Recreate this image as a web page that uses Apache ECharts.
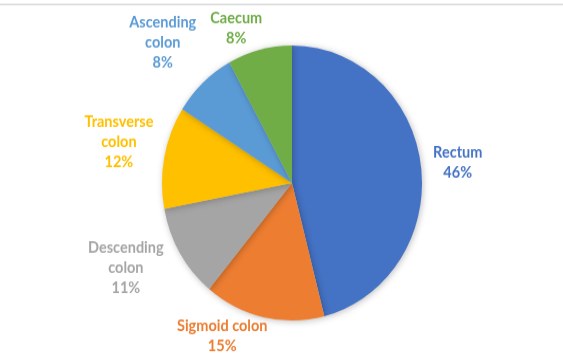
<!DOCTYPE html>
<html>
<head>
<meta charset="utf-8">
<script src="https://cdn.jsdelivr.net/npm/echarts@6/dist/echarts.min.js"></script>
<style>
html,body{margin:0;padding:0;background:#fff;overflow:hidden;}
#wrap{width:563px;height:356px;overflow:hidden;}
#chart{width:563px;}
</style>
</head>
<body>
<div id="wrap"><div id="chart"></div></div>
<script>
const categories = ['Rectum', 'Sigmoid colon', 'Descending colon', 'Transverse colon', 'Ascending colon', 'Caecum'];
const values = [46, 15, 11, 12, 8, 8];
const colors = ['#4472C4', '#ED7D31', '#A5A5A5', '#FFC000', '#5B9BD5', '#70AD47'];
// label nudges (px, on screen) relative to a radial anchor just outside each slice
const labelNudge = [[3, 1.5], [-34, -14], [-25, -2], [-12, -9], [-17, -15], [-15, 11]];

// the reference picture is stretched slightly taller than wide
const K = 137.5 / 130;
const W = 563, H = 356 / K;
const CX = 292, CYs = 183, RX = 130, RYs = RX * K, LABEL_GAP = 34;
const el = document.getElementById('chart');
el.style.height = H + 'px';
el.style.transformOrigin = '0 0';
el.style.transform = 'scaleY(' + K + ')';

const total = values.reduce((a, b) => a + b, 0);
const midAngles = [];
let acc = 0;
values.forEach(v => { midAngles.push((acc + v / 2) / total * 2 * Math.PI); acc += v; });

const chart = echarts.init(el, null, {renderer: 'canvas'});
chart.setOption({
  animation: false,
  backgroundColor: '#fff',
  graphic: [{
    type: 'line',
    shape: {x1: 0, y1: 4.5 / K, x2: W, y2: 4.5 / K},
    style: {stroke: '#d9d9d9', lineWidth: 1.5}
  }],
  series: [{
    type: 'pie',
    center: [CX, CYs / K],
    radius: RX,
    startAngle: 90,
    clockwise: true,
    avoidLabelOverlap: false,
    itemStyle: {
      shadowBlur: 6,
      shadowColor: 'rgba(0,0,0,0.25)',
      shadowOffsetX: 1,
      shadowOffsetY: 1
    },
    label: {
      show: true,
      position: 'outside',
      fontFamily: 'Lato',
      fontWeight: 'bold',
      fontSize: 14.5,
      lineHeight: 19,
      formatter: p => {
        const name = p.name === 'Sigmoid colon' ? p.name : p.name.replace(' ', '\n');
        return name + '\n' + p.value + '%';
      }
    },
    labelLine: {show: false},
    labelLayout: params => {
      const i = params.dataIndex;
      const a = midAngles[i];
      const xs = CX + (RX + LABEL_GAP) * Math.sin(a) + labelNudge[i][0];
      const ys = CYs - (RYs + LABEL_GAP) * Math.cos(a) + labelNudge[i][1];
      return {x: xs, y: ys / K, align: 'center', verticalAlign: 'middle'};
    },
    data: categories.map((c, i) => ({
      name: c,
      value: values[i],
      itemStyle: {color: colors[i]},
      label: {color: colors[i]}
    }))
  }]
});
</script>
</body>
</html>
